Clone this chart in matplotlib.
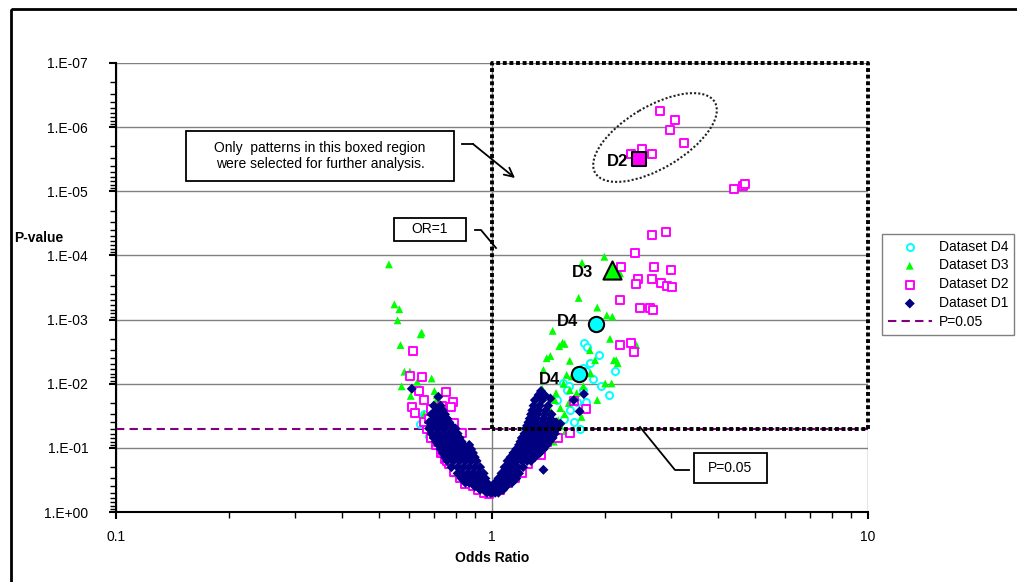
import numpy as np
import matplotlib.pyplot as plt
from matplotlib.lines import Line2D
from matplotlib.patches import Rectangle, Ellipse
from matplotlib.transforms import Affine2D
from matplotlib.ticker import FixedLocator, FuncFormatter, LogLocator, NullFormatter

plt.rcParams['font.family'] = ['Liberation Sans', 'DejaVu Sans']

# ---- data: (odds ratio, p-value) ----
d1_right = [(1.00, 0.50), (1.02, 0.50), (1.04, 0.50),
            (1.01, 0.45), (1.03, 0.45), (1.05, 0.45), (1.07, 0.45),
            (1.01, 0.40), (1.03, 0.40), (1.05, 0.40), (1.07, 0.40), (1.09, 0.40),
            (1.02, 0.35), (1.04, 0.35), (1.07, 0.35), (1.10, 0.35), (1.13, 0.35),
            (1.04, 0.30), (1.07, 0.30), (1.10, 0.30), (1.13, 0.30), (1.16, 0.30),
            (1.06, 0.25), (1.09, 0.25), (1.12, 0.25), (1.15, 0.25), (1.18, 0.25),
            (1.08, 0.20), (1.11, 0.20), (1.14, 0.20), (1.17, 0.20), (1.21, 0.20),
            (1.10, 0.16), (1.13, 0.16), (1.16, 0.16), (1.20, 0.16), (1.24, 0.16), (1.27, 0.16),
            (1.12, 0.14), (1.15, 0.14), (1.19, 0.14), (1.23, 0.14), (1.27, 0.14), (1.30, 0.14),
            (1.14, 0.12), (1.18, 0.12), (1.22, 0.12), (1.26, 0.12), (1.30, 0.12), (1.34, 0.12),
            (1.16, 0.105), (1.20, 0.105), (1.24, 0.105), (1.28, 0.105), (1.32, 0.105), (1.37, 0.105),
            (1.18, 0.09), (1.22, 0.09), (1.26, 0.09), (1.30, 0.09), (1.35, 0.09), (1.40, 0.09),
            (1.19, 0.08), (1.23, 0.08), (1.28, 0.08), (1.32, 0.08), (1.37, 0.08), (1.42, 0.08),
            (1.20, 0.07), (1.25, 0.07), (1.29, 0.07), (1.34, 0.07), (1.39, 0.07), (1.45, 0.07),
            (1.22, 0.06), (1.26, 0.06), (1.31, 0.06), (1.36, 0.06), (1.41, 0.06), (1.47, 0.06),
            (1.23, 0.05), (1.28, 0.05), (1.33, 0.05), (1.38, 0.05), (1.43, 0.05), (1.49, 0.05),
            (1.24, 0.045), (1.29, 0.045), (1.34, 0.045), (1.40, 0.045), (1.46, 0.045),
            (1.25, 0.04), (1.30, 0.04), (1.36, 0.04), (1.42, 0.04), (1.48, 0.04),
            (1.26, 0.035), (1.31, 0.035), (1.37, 0.035), (1.43, 0.035),
            (1.27, 0.03), (1.32, 0.03), (1.38, 0.03), (1.44, 0.03),
            (1.28, 0.026), (1.33, 0.026), (1.39, 0.026),
            (1.29, 0.022), (1.34, 0.022), (1.41, 0.022),
            (1.30, 0.018), (1.36, 0.018), (1.33, 0.015), (1.38, 0.015), (1.35, 0.013),
            (1.43, 0.017), (1.755, 0.0145), (1.71, 0.027), (1.52, 0.042), (1.37, 0.22), (1.65, 0.018)]
d1_left = [(0.97, 0.50), (0.99, 0.50), (1.00, 0.49),
           (0.93, 0.45), (0.95, 0.45), (0.97, 0.45), (0.99, 0.45),
           (0.90, 0.40), (0.92, 0.40), (0.94, 0.40), (0.96, 0.40), (0.98, 0.40),
           (0.85, 0.35), (0.87, 0.35), (0.89, 0.35), (0.91, 0.35), (0.94, 0.35), (0.97, 0.35),
           (0.83, 0.30), (0.85, 0.30), (0.88, 0.30), (0.91, 0.30), (0.94, 0.30), (0.96, 0.30),
           (0.81, 0.25), (0.83, 0.25), (0.86, 0.25), (0.89, 0.25), (0.92, 0.25), (0.95, 0.25),
           (0.78, 0.20), (0.81, 0.20), (0.84, 0.20), (0.87, 0.20), (0.90, 0.20), (0.93, 0.20),
           (0.76, 0.16), (0.79, 0.16), (0.82, 0.16), (0.85, 0.16), (0.88, 0.16), (0.91, 0.16),
           (0.75, 0.14), (0.78, 0.14), (0.81, 0.14), (0.84, 0.14), (0.87, 0.14), (0.90, 0.14),
           (0.74, 0.12), (0.77, 0.12), (0.80, 0.12), (0.83, 0.12), (0.86, 0.12), (0.89, 0.12),
           (0.73, 0.105), (0.76, 0.105), (0.79, 0.105), (0.82, 0.105), (0.85, 0.105), (0.88, 0.105),
           (0.72, 0.09), (0.75, 0.09), (0.78, 0.09), (0.81, 0.09), (0.84, 0.09), (0.87, 0.09),
           (0.71, 0.08), (0.74, 0.08), (0.77, 0.08), (0.80, 0.08), (0.83, 0.08),
           (0.70, 0.07), (0.73, 0.07), (0.76, 0.07), (0.79, 0.07), (0.82, 0.07),
           (0.69, 0.06), (0.72, 0.06), (0.75, 0.06), (0.78, 0.06), (0.81, 0.06),
           (0.68, 0.05), (0.71, 0.05), (0.74, 0.05), (0.77, 0.05), (0.80, 0.05),
           (0.69, 0.045), (0.72, 0.045), (0.75, 0.045), (0.78, 0.045),
           (0.68, 0.04), (0.71, 0.04), (0.74, 0.04), (0.77, 0.04),
           (0.70, 0.035), (0.73, 0.035), (0.76, 0.035),
           (0.69, 0.03), (0.72, 0.03), (0.75, 0.03),
           (0.71, 0.026), (0.74, 0.026), (0.70, 0.022), (0.73, 0.022), (0.72, 0.016),
           (0.612, 0.012)]

d2_points = [(2.80, 5.7e-7), (3.06, 7.7e-7), (2.97, 1.1e-6), (3.24, 1.75e-6), (2.51, 2.2e-6),
             (2.34, 2.6e-6), (2.66, 2.6e-6), (4.41, 9.1e-6), (4.66, 8.2e-6), (4.70, 7.6e-6),
             (2.66, 4.8e-5), (2.91, 4.3e-5), (2.40, 9.3e-5), (2.20, 1.5e-4), (2.70, 1.5e-4),
             (3.00, 1.7e-4), (2.44, 2.35e-4), (2.42, 2.8e-4), (2.67, 2.35e-4), (2.81, 2.7e-4),
             (2.92, 3.0e-4), (3.01, 3.1e-4), (2.19, 5.0e-4), (2.47, 6.5e-4), (2.63, 6.7e-4),
             (2.68, 7.1e-4), (2.19, 2.5e-3), (2.34, 2.3e-3), (2.39, 3.2e-3), (1.655, 1.86e-2),
             (1.78, 2.5e-2), (1.61, 5.8e-2),
             (1.10, 0.35), (1.20, 0.25), (1.30, 0.12), (1.40, 0.08), (1.15, 0.30),
             (1.25, 0.18), (1.05, 0.45), (1.45, 0.06), (1.50, 0.07), (1.35, 0.13),
             (0.618, 3.1e-3), (0.605, 7.6e-3), (0.652, 7.8e-3), (0.64, 1.3e-2), (0.755, 1.37e-2),
             (0.613, 2.3e-2), (0.624, 2.9e-2), (0.66, 1.8e-2), (0.789, 1.9e-2), (0.777, 2.3e-2),
             (0.735, 2.2e-2), (0.69, 2.5e-2), (0.79, 4.1e-2), (0.83, 5.9e-2),
             (0.67, 0.05), (0.69, 0.07), (0.71, 0.09), (0.73, 0.12), (0.75, 0.15),
             (0.77, 0.18), (0.80, 0.22), (0.83, 0.28), (0.86, 0.33), (0.89, 0.40),
             (0.92, 0.45), (0.95, 0.50), (0.70, 0.045), (0.72, 0.08), (0.74, 0.11),
             (0.76, 0.16), (0.79, 0.24), (0.66, 0.04), (0.68, 0.035), (0.70, 0.06),
             (0.82, 0.30), (0.85, 0.37), (0.98, 0.52)]

d3_points = [(0.532, 1.38e-4), (0.55, 5.8e-4), (0.567, 6.9e-4), (0.561, 1.03e-3), (0.65, 1.6e-3),
             (0.646, 1.7e-3), (0.571, 2.5e-3), (0.585, 6.5e-3), (0.605, 6.5e-3), (0.633, 9.3e-3),
             (0.691, 8.3e-3), (0.575, 1.1e-2), (0.608, 1.55e-2), (0.713, 1.5e-2), (0.713, 1.75e-2),
             (0.703, 1.3e-2), (0.72, 1.8e-2), (0.71, 2.3e-2), (0.74, 2.6e-2),
             (0.66, 0.03), (0.69, 0.04), (0.72, 0.03), (0.68, 0.06), (0.86, 0.35), (0.80, 0.25),
             (1.99, 1.05e-4), (1.735, 1.3e-4), (2.19, 1.9e-4), (1.70, 4.6e-4), (1.905, 6.5e-4),
             (2.02, 8.6e-4), (2.09, 9.0e-4), (1.45, 1.5e-3), (1.54, 2.3e-3), (1.51, 2.6e-3),
             (1.398, 4.0e-3), (1.43, 3.7e-3), (2.06, 2.0e-3), (1.82, 3.0e-3), (2.11, 4.3e-3),
             (1.88, 4.3e-3), (1.37, 6.1e-3), (1.58, 7.3e-3), (1.63, 7.7e-3), (1.83, 6.9e-3),
             (2.00, 9.9e-3), (2.08, 9.9e-3), (1.905, 1.8e-2), (1.61, 1.26e-2), (1.47, 1.8e-2),
             (1.60, 2.0e-2), (1.73, 3.3e-2), (1.43, 2.6e-2), (1.50, 3.7e-2), (1.40, 2.9e-2),
             (1.45, 5.0e-2), (1.37, 5.9e-2), (2.42, 2.5e-3), (1.56, 2.4e-3), (1.61, 4.4e-3),
             (2.14, 4.3e-3), (2.16, 4.8e-3), (1.36, 1.2e-2), (1.33, 2.0e-2), (1.55, 1.0e-2),
             (1.68, 1.4e-2), (1.75, 1.1e-2), (1.48, 1.4e-2), (1.52, 2.4e-2), (1.56, 3.0e-2),
             (1.30, 0.05), (1.35, 0.07), (1.28, 0.09), (1.25, 0.12), (1.40, 0.045),
             (1.52, 0.045), (1.57, 0.055), (1.22, 0.15), (1.18, 0.20), (1.46, 0.08)]

d4_points = [(1.755, 2.3e-3), (1.79, 2.7e-3), (1.92, 3.6e-3), (1.82, 4.8e-3), (2.12, 6.3e-3),
             (1.75, 5.6e-3), (1.78, 6.3e-3), (1.548, 9.9e-3), (1.60, 1.1e-2), (1.58, 1.26e-2),
             (1.75, 1.26e-2), (1.487, 1.8e-2), (1.78, 1.9e-2), (1.68, 1.95e-2), (1.61, 2.6e-2),
             (1.65, 4.0e-2), (1.71, 5.0e-2), (1.55, 3.5e-2), (1.86, 8.5e-3), (1.95, 1.1e-2),
             (2.05, 1.5e-2),
             (0.67, 5.0e-2), (0.656, 3.3e-2), (0.643, 4.3e-2), (0.68, 6.5e-2), (0.66, 3.0e-2),
             (0.90, 0.40), (0.95, 0.48)]

# highlighted patterns
hl_names = ['D2', 'D3', 'D4', 'D4']
hl_or = [2.46, 2.08, 1.89, 1.70]
hl_p = [3.1e-6, 1.7e-4, 1.17e-3, 7.1e-3]

p_cut = 0.05
or_box = [1, 10]
p_box = [1e-7, p_cut]

W, H = 1017, 582
fig = plt.figure(figsize=(W / 100, H / 100), dpi=100)
ax = fig.add_axes([116 / W, 1 - 512 / H, (868 - 116) / W, (512 - 63) / H])
# image pixel coords -> figure
px = Affine2D().scale(1 / W, -1 / H).translate(0, 1) + fig.transFigure


def split(pts):
    return [a for a, b in pts], [b for a, b in pts]


d1_or, d1_p = split(d1_right + d1_left)
d2_or, d2_p = split(d2_points)
d3_or, d3_p = split(d3_points)
d4_or, d4_p = split(d4_points)

h4 = ax.scatter(d4_or, d4_p, marker='o', s=26, facecolors='white', edgecolors='#00FFFF',
                linewidths=1.4, label='Dataset D4', zorder=3)
h3 = ax.scatter(d3_or, d3_p, marker='^', s=32, color='#00FF00', edgecolors='none',
                label='Dataset D3', zorder=4)
h2 = ax.scatter(d2_or, d2_p, marker='s', s=26, facecolors='white', edgecolors='#FF00FF',
                linewidths=1.4, label='Dataset D2', zorder=5)
h1 = ax.scatter(d1_or, d1_p, marker='D', s=26, color='#000080', edgecolors='none',
                label='Dataset D1', zorder=6)

hline = ax.axhline(p_cut, color='#800080', lw=1.5, ls=(0, (4, 2.5)), label='P=0.05', zorder=2)

# selection box
ax.plot([or_box[0], or_box[0], or_box[1], or_box[1], or_box[0]],
        [p_box[1], p_box[0], p_box[0], p_box[1], p_box[1]],
        color='black', lw=2.8, ls=(0, (1, 0.7)), zorder=7, clip_on=False)

# highlighted markers
ax.scatter(hl_or[0], hl_p[0], marker='s', s=110, color='#FF00FF', edgecolors='black', linewidths=1.5, zorder=8)
ax.scatter(hl_or[1], hl_p[1], marker='^', s=170, color='#00FF00', edgecolors='black', linewidths=1.5, zorder=8)
ax.scatter(hl_or[2:], hl_p[2:], marker='o', s=120, color='#00FFFF', edgecolors='black', linewidths=1.5, zorder=8)
offs = [(-8, -2), (-13, -2), (-13, 2), (-13, -4)]
for name, x, y, o in zip(hl_names, hl_or, hl_p, offs):
    ax.annotate(name, (x, y), xytext=o, textcoords='offset points', ha='right', va='center',
                fontsize=12, fontweight='bold', zorder=9)

# axes
ax.set_xscale('log')
ax.set_yscale('log')
ax.set_xlim(0.1, 10)
ax.set_ylim(1, 1e-7)
ax.xaxis.set_major_locator(FixedLocator([0.1, 1, 10]))
ax.xaxis.set_major_formatter(FuncFormatter(lambda v, pos: f"{v:g}"))
ax.xaxis.set_minor_locator(LogLocator(base=10, subs=range(2, 10)))
ax.xaxis.set_minor_formatter(NullFormatter())
ax.yaxis.set_major_locator(FixedLocator([10.0 ** -k for k in range(8)]))
ax.yaxis.set_major_formatter(FuncFormatter(lambda v, pos: f"1.E{int(round(np.log10(v))):+03d}"))
ax.yaxis.set_minor_locator(LogLocator(base=10, subs=range(2, 10), numticks=20))
ax.yaxis.set_minor_formatter(NullFormatter())
ax.grid(True, which='major', color='#808080', lw=1)
ax.set_axisbelow(True)
for s in ['top', 'right']:
    ax.spines[s].set_visible(False)
for s in ['left', 'bottom']:
    ax.spines[s].set_linewidth(1.5)
ax.tick_params(which='major', direction='out', length=5, width=1.5, labelsize=10)
ax.tick_params(which='minor', direction='out', length=4, width=1)
ax.tick_params(axis='x', pad=8)
ax.tick_params(axis='y', pad=15)

fig.text(14, 238, 'P-value', transform=px, fontsize=10, fontweight='bold', ha='left', va='center')
fig.text(492, 558, 'Odds Ratio', transform=px, fontsize=10, fontweight='bold', ha='center', va='center')

# call-out boxes
for x0, y0, x1, y1 in [(186, 131, 454, 181), (394, 218, 466, 241), (694, 453, 767, 483)]:
    fig.add_artist(Rectangle((x0, y0), x1 - x0, y1 - y0, transform=px, fill=False, ec='black', lw=1.3))
fig.text(320, 156, 'Only  patterns in this boxed region\nwere selected for further analysis.',
         transform=px, fontsize=10, ha='center', va='center', linespacing=1.2)
fig.text(430, 229, 'OR=1', transform=px, fontsize=10, ha='center', va='center')
fig.text(730, 468, 'P=0.05', transform=px, fontsize=10, ha='center', va='center')

fig.add_artist(Line2D([462, 473], [144, 144], transform=px, color='black', lw=1.3))
fig.add_artist(Line2D([475, 481, 496], [230, 230, 248], transform=px, color='black', lw=1.3))
fig.add_artist(Line2D([640, 675, 689], [427, 470, 470], transform=px, color='black', lw=1.3))
ax.annotate('', xy=(515 / W, 1 - 178 / H), xycoords='figure fraction',
            xytext=(473 / W, 1 - 144 / H), textcoords='figure fraction',
            arrowprops=dict(arrowstyle='->', color='black', lw=1.3, mutation_scale=16,
                            shrinkA=0, shrinkB=0), annotation_clip=False)

# dotted ellipse around the D2 cluster
fig.add_artist(Ellipse((655, 137.5), 139, 62, angle=-30.7, transform=px, fill=False,
                       ec='#222222', lw=1.5, ls=(0, (1, 1))))

# outer frame
fig.add_artist(Rectangle((11, 9), 1100, 700, transform=px, fill=False, ec='black', lw=2))

leg = fig.legend([h4, h3, h2, h1, hline], ['Dataset D4', 'Dataset D3', 'Dataset D2', 'Dataset D1', 'P=0.05'],
                 loc='upper left', bbox_to_anchor=(882 / W, 1 - 234 / H), bbox_transform=fig.transFigure,
                 fontsize=10, frameon=True, fancybox=False, edgecolor='#808080', framealpha=1,
                 handlelength=3.2, handletextpad=0.5, borderpad=0.4, labelspacing=0.35,
                 borderaxespad=0, scatterpoints=1)
leg.get_frame().set_linewidth(1.0)

fig.savefig('out.png', dpi=100)
